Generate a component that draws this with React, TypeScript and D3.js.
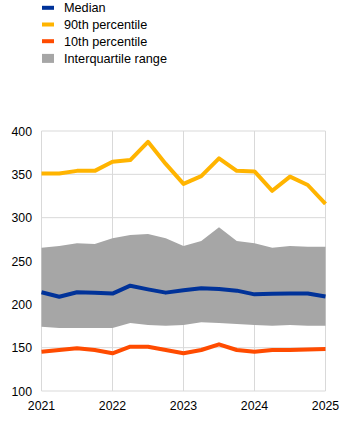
import React from "react";
import * as d3 from "d3";

const quarters = [
  2021, 2021.25, 2021.5, 2021.75, 2022, 2022.25, 2022.5, 2022.75, 2023,
  2023.25, 2023.5, 2023.75, 2024, 2024.25, 2024.5, 2024.75, 2025,
];
const p90 = [351, 351, 354, 354, 364.5, 366.5, 387.5, 362, 339, 348, 368.5, 354, 353.4, 331, 347.3, 337.7, 315.8];
const q3 = [265.4, 267.3, 270.4, 269.6, 276.2, 280, 281.2, 276.2, 267.3, 273, 288.9, 273, 270.4, 265.4, 267.3, 266.5, 266.5];
const median = [213.9, 208.8, 213.9, 213.5, 212.4, 221.5, 217.3, 213.5, 216.2, 218.5, 217.8, 215.8, 211.5, 212.3, 212.5, 212.5, 209];
const q1 = [174.2, 172.7, 172.7, 172.7, 172.7, 178.5, 176.2, 175.4, 176.2, 179.3, 178.5, 177.3, 176.2, 175.4, 176.2, 175.4, 175.4];
const p10 = [145.4, 147.3, 149.2, 147.3, 143.5, 151.1, 151.1, 147.3, 143.5, 147.3, 153.9, 147.3, 145.4, 147.3, 147.3, 148, 148.5];

const yTicks = [100, 150, 200, 250, 300, 350, 400];
const xTicks = [2021, 2022, 2023, 2024, 2025];

const legendItems = [
  { label: "Median", color: "#003299", kind: "line" },
  { label: "90th percentile", color: "#ffb400", kind: "line" },
  { label: "10th percentile", color: "#ff4b00", kind: "line" },
  { label: "Interquartile range", color: "#a6a6a6", kind: "box" },
];

export default function App() {
  const W = 357;
  const H = 439;
  const x = d3.scaleLinear().domain([2021, 2025]).range([41.5, 325.5]);
  const y = d3.scaleLinear().domain([100, 400]).range([391, 131]);
  const font = "'Liberation Sans', Arial, sans-serif";

  const line = (vals: number[]) =>
    d3
      .line<number>()
      .x((_, i) => x(quarters[i]))
      .y((v) => y(v))(vals) as string;

  const area = d3
    .area<number>()
    .x((_, i) => x(quarters[i]))
    .y0((_, i) => y(q1[i]))
    .y1((_, i) => y(q3[i]))(quarters) as string;

  return (
    <svg
      width={W}
      height={H}
      style={{ position: "absolute", left: 0, top: 0 }}
      fontFamily={font}
    >
      <rect width={W} height={H} fill="#fff" />
      {legendItems.map((it, i) => {
        const cy = 7.8 + i * 16.7;
        return (
          <g key={it.label}>
            {it.kind === "line" ? (
              <rect x={42} y={cy - 2} width={12} height={4} fill={it.color} />
            ) : (
              <rect x={42} y={cy - 4} width={12} height={9} fill={it.color} />
            )}
            <text x={64} y={cy + 4.6} fontSize={12.7} fill="#000">
              {it.label}
            </text>
          </g>
        );
      })}
      {yTicks.map((t) => (
        <line
          key={"gy" + t}
          x1={x(2021)}
          x2={x(2025)}
          y1={y(t)}
          y2={y(t)}
          stroke="#d9d9d9"
          strokeWidth={1}
        />
      ))}
      {xTicks.map((t) => (
        <line
          key={"gx" + t}
          x1={x(t)}
          x2={x(t)}
          y1={y(100)}
          y2={y(400)}
          stroke="#d9d9d9"
          strokeWidth={1}
        />
      ))}
      <path d={area} fill="#a6a6a6" />
      <path d={line(p90)} fill="none" stroke="#ffb400" strokeWidth={4} strokeLinejoin="round" />
      <path d={line(p10)} fill="none" stroke="#ff4b00" strokeWidth={4} strokeLinejoin="round" />
      <path d={line(median)} fill="none" stroke="#003299" strokeWidth={4} strokeLinejoin="round" />
      {yTicks.map((t) => (
        <text key={"ty" + t} x={32} y={y(t) + 4.5} fontSize={12.3} textAnchor="end" fill="#000">
          {t}
        </text>
      ))}
      {xTicks.map((t) => (
        <text key={"tx" + t} x={x(t)} y={410} fontSize={12.3} textAnchor="middle" fill="#000">
          {t}
        </text>
      ))}
    </svg>
  );
}
